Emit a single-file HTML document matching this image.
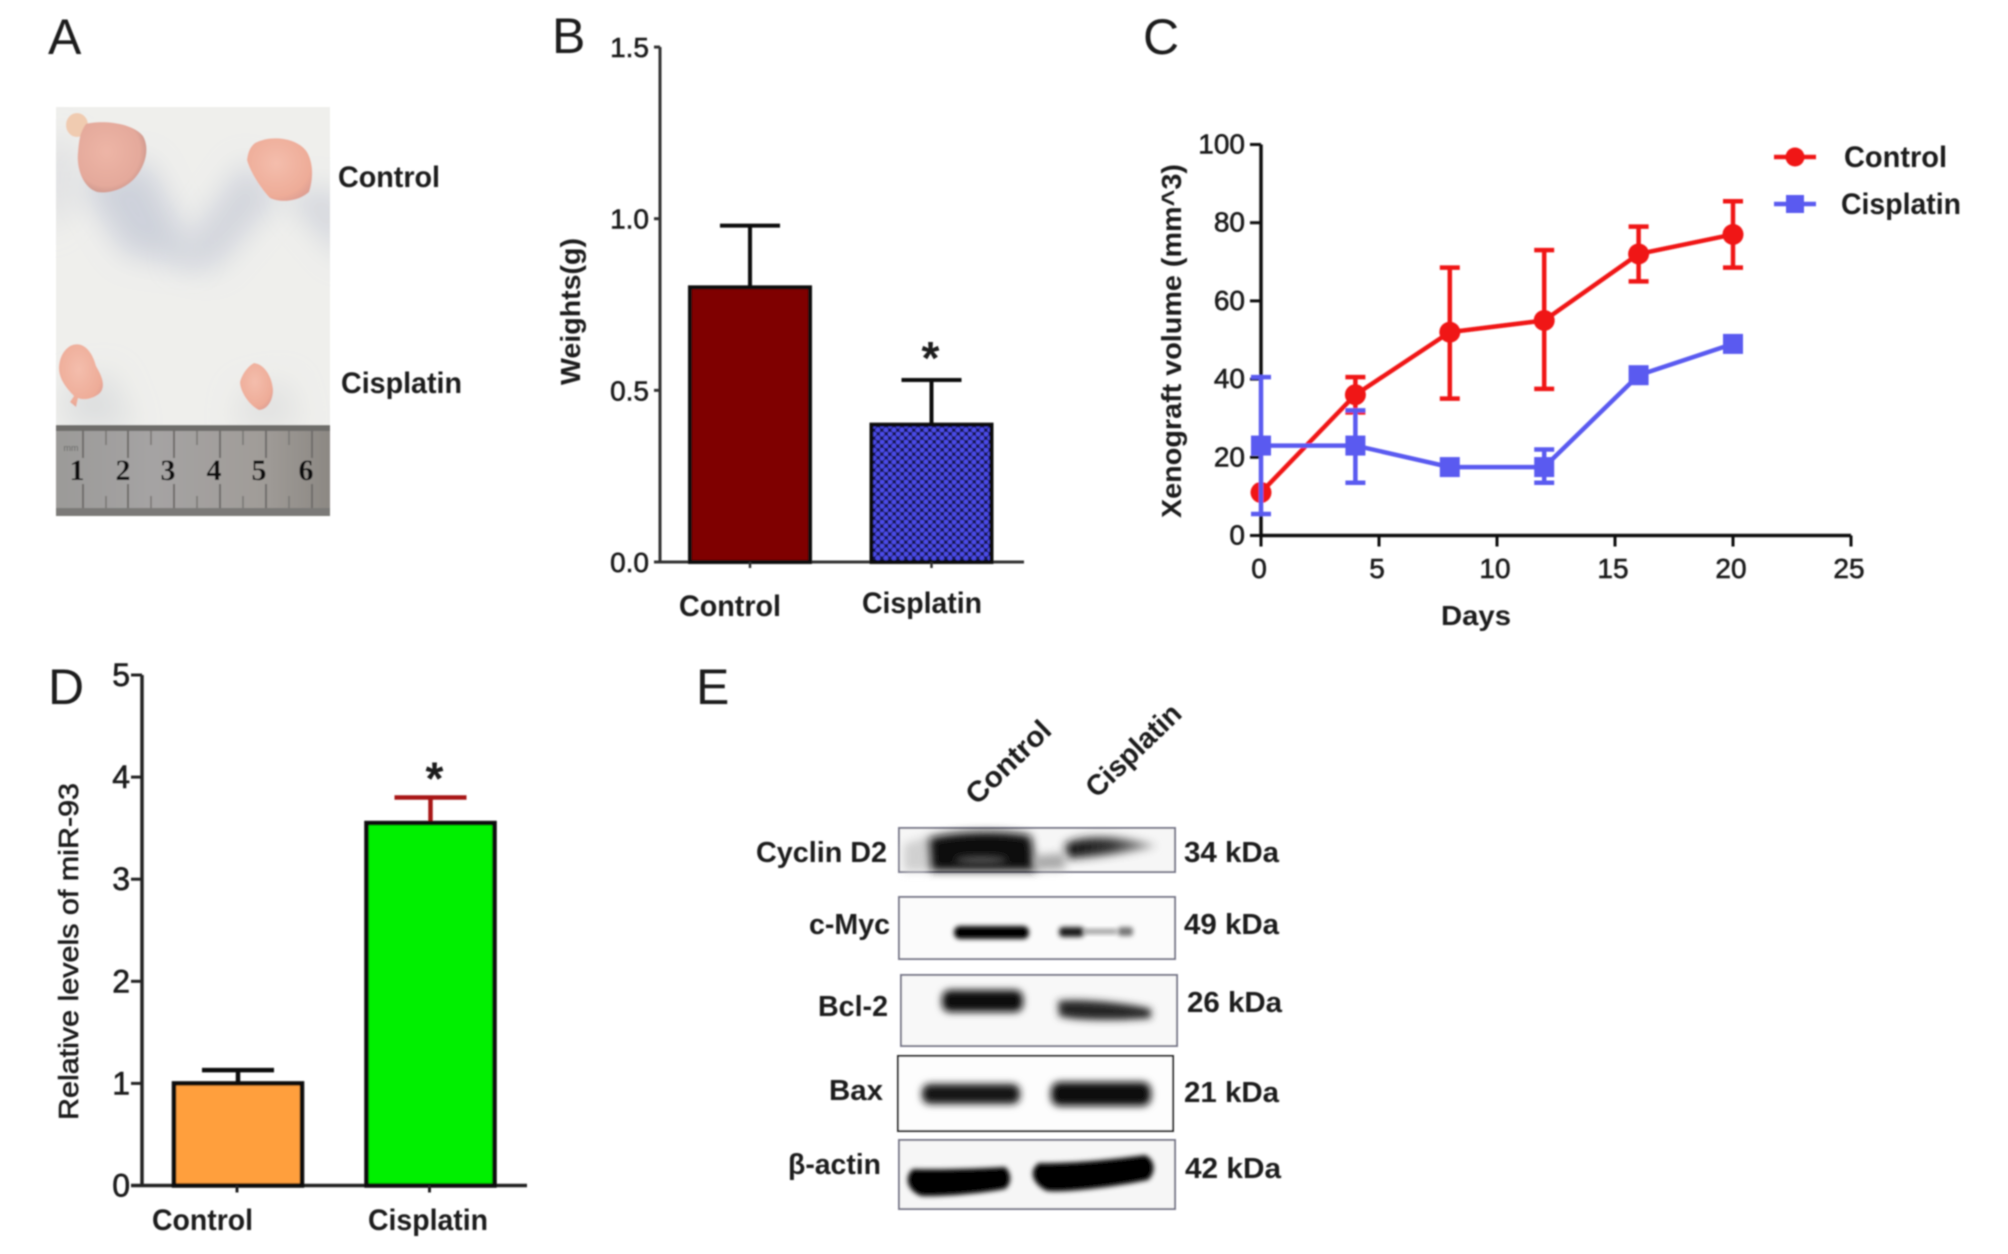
<!DOCTYPE html>
<html lang="en">
<head>
<meta charset="utf-8">
<title>Cisplatin xenograft figure</title>
<style>
html,body{margin:0;padding:0;background:#fff;width:2008px;height:1254px;overflow:hidden}
svg{display:block}
text{font-family:"Liberation Sans",sans-serif;fill:#1a1a1a}
.b{font-weight:bold}
.m{stroke:#1a1a1a;stroke-width:.6px}
</style>
</head>
<body>
<svg id="fig" xmlns="http://www.w3.org/2000/svg" width="2008" height="1254" viewBox="0 0 2008 1254">
<defs>
<filter id="soft" x="-2%" y="-2%" width="104%" height="104%"><feGaussianBlur stdDeviation="0.8"/></filter>
<filter id="b1" x="-30%" y="-60%" width="160%" height="220%"><feGaussianBlur stdDeviation="1.2"/></filter>
<filter id="b2" x="-30%" y="-60%" width="160%" height="220%"><feGaussianBlur stdDeviation="2.4"/></filter>
<filter id="b3" x="-30%" y="-60%" width="160%" height="220%"><feGaussianBlur stdDeviation="3.6"/></filter>
<filter id="b4" x="-30%" y="-60%" width="160%" height="220%"><feGaussianBlur stdDeviation="4.6"/></filter>
<filter id="b14" x="-60%" y="-60%" width="220%" height="220%"><feGaussianBlur stdDeviation="15"/></filter>
<pattern id="dots" width="8" height="8" patternUnits="userSpaceOnUse">
<rect width="8" height="8" fill="#121250"/>
<circle cx="2" cy="2" r="2.5" fill="#4c4ce8"/>
<circle cx="6" cy="6" r="2.5" fill="#4c4ce8"/>
</pattern>
<radialGradient id="tumor" cx="42%" cy="42%" r="68%">
<stop offset="0" stop-color="#edb5a6"/><stop offset=".72" stop-color="#e4a99b"/><stop offset="1" stop-color="#bf8d84"/>
</radialGradient>
<radialGradient id="tumor2" cx="45%" cy="40%" r="65%">
<stop offset="0" stop-color="#f4bdac"/><stop offset=".8" stop-color="#eeac98"/><stop offset="1" stop-color="#dfa093"/>
</radialGradient>
<clipPath id="photo-clip"><rect x="56" y="107" width="274" height="319"/></clipPath>
<linearGradient id="ruler-grad" x1="0" x2="1" y1="0" y2="0">
<stop offset="0" stop-color="#9b9a98"/><stop offset=".35" stop-color="#a5a3a3"/><stop offset=".75" stop-color="#a09c98"/><stop offset="1" stop-color="#8c8883"/>
</linearGradient>
<linearGradient id="fade" x1="0" x2="1" y1="0" y2="0">
<stop offset="0" stop-color="#111"/><stop offset=".5" stop-color="#333"/><stop offset="1" stop-color="#aaa"/>
</linearGradient>
</defs>

<g id="root" filter="url(#soft)">

<!-- Panel A -->
<g>
<text x="48" y="54" font-size="50">A</text>
<g>
<rect x="56" y="107" width="274" height="319" fill="#efefec"/>
<g clip-path="url(#photo-clip)">
<polygon points="78,180 147,160 200,265 125,255" fill="#c8ccd8" opacity=".85" filter="url(#b14)"/>
<polygon points="245,160 280,195 215,270 172,262" fill="#cdd0da" opacity=".85" filter="url(#b14)"/>
<polygon points="280,190 345,190 345,265" fill="#cfd2da" opacity=".85" filter="url(#b14)"/>
<polygon points="45,140 75,140 75,205 45,235" fill="#dcdde0" opacity=".85" filter="url(#b14)"/>
<polygon points="62,385 112,372 135,430 66,430" fill="#d6d8da" opacity=".7" filter="url(#b14)"/>
<polygon points="240,390 290,380 300,430 235,430" fill="#d8d9da" opacity=".6" filter="url(#b14)"/>
</g>
<g>
<ellipse cx="77" cy="125" rx="11" ry="12" fill="#f0cbb0"/>
<path d="M86 124 C100 120 132 122 143 136 C150 148 146 165 135 178 C124 190 108 194 97 192 C84 188 76 170 78 152 C79 140 80 132 86 124Z" fill="url(#tumor)"/>
<path d="M255 143 C272 134 298 138 307 152 C314 164 313 180 309 192 C298 202 280 203 270 198 C262 190 250 172 247 160 C248 152 250 147 255 143Z" fill="url(#tumor2)"/>
<path d="M70 346 C82 340 92 350 96 366 C102 376 106 386 100 393 C92 400 82 400 78 398 L76 407 L70 402 L74 396 C66 388 58 378 59 366 C60 356 64 350 70 346Z" fill="url(#tumor2)"/>
<path d="M254 363 C264 364 272 376 273 390 C273 402 266 410 259 410 C250 406 240 392 240 382 C242 374 248 366 254 363Z" fill="url(#tumor2)"/>
</g>
<g>
<rect x="56" y="425" width="274" height="91" fill="url(#ruler-grad)"/>
<rect x="56" y="425" width="274" height="6" fill="#6e6d6b"/>
<rect x="56" y="508" width="274" height="8" fill="#7c7a78"/>
<path d="M83 431v27M128 431v27M174 431v27M220 431v27M266 431v27M312 431v27M83 484v24M128 484v24M174 484v24M220 484v24M266 484v24M312 484v24" stroke="#6f6d6b" stroke-width="2"/>
<path d="M106 431v14M151 431v14M197 431v14M243 431v14M289 431v14M106 496v12M151 496v12M197 496v12M243 496v12M289 496v12" stroke="#7a7876" stroke-width="1.6"/>
<text x="71" y="451" font-size="9" text-anchor="middle" style="fill:#666">mm</text>
<text x="77" y="480" text-anchor="middle" font-size="30" font-weight="bold" style="font-family:'Liberation Serif',serif;fill:#111">1</text>
<text x="123" y="480" text-anchor="middle" font-size="30" font-weight="bold" style="font-family:'Liberation Serif',serif;fill:#111">2</text>
<text x="168" y="480" text-anchor="middle" font-size="30" font-weight="bold" style="font-family:'Liberation Serif',serif;fill:#111">3</text>
<text x="214" y="480" text-anchor="middle" font-size="30" font-weight="bold" style="font-family:'Liberation Serif',serif;fill:#111">4</text>
<text x="259" y="480" text-anchor="middle" font-size="30" font-weight="bold" style="font-family:'Liberation Serif',serif;fill:#111">5</text>
<text x="306" y="480" text-anchor="middle" font-size="30" font-weight="bold" style="font-family:'Liberation Serif',serif;fill:#111">6</text>
</g>
</g>
<text x="338" y="187" class="b" font-size="30" textLength="102" lengthAdjust="spacingAndGlyphs">Control</text>
<text x="341" y="393" class="b" font-size="30" textLength="121" lengthAdjust="spacingAndGlyphs">Cisplatin</text>
</g>

<!-- Panel letters -->
<text x="552" y="53" font-size="50">B</text>
<text x="1143" y="54" font-size="50">C</text>
<text x="48" y="704" font-size="50">D</text>
<text x="696" y="704" font-size="50">E</text>

<g id="chart-b"></g>
<g id="chart-c"></g>
<g id="chart-d"></g>

<!-- Panel E -->
<g>
<text transform="translate(977,806) rotate(-44)" class="b" font-size="29" textLength="106" lengthAdjust="spacingAndGlyphs">Control</text>
<text transform="translate(1097,799) rotate(-44)" class="b" font-size="29" textLength="120" lengthAdjust="spacingAndGlyphs">Cisplatin</text>

<g transform="translate(-1,-2)">
<g>
<rect x="900" y="830" width="276" height="44" fill="#f6f6f6" stroke="#7a7a8c" stroke-width="2"/>
<path d="M905 846 L930 838 L930 873 L905 873Z" fill="#d0d0d0" filter="url(#b4)"/>
<path d="M930 840 C960 832 1010 832 1032 838 L1037 873 L932 873Z" fill="#101010" filter="url(#b4)"/>
<ellipse cx="982" cy="862" rx="26" ry="4" fill="#555" filter="url(#b3)"/>
<path d="M1066 846 C1085 836 1125 838 1158 848 C1130 854 1090 860 1068 860Z" fill="url(#fade)" filter="url(#b4)"/>
<path d="M1034 858 L1066 855 L1066 871 L1036 872Z" fill="#a8a8a8" filter="url(#b4)"/>
</g>
<g>
<rect x="900" y="899" width="276" height="62" fill="#fbfbfb" stroke="#7a7a8c" stroke-width="2"/>
<rect x="955" y="928" width="75" height="13" rx="6" fill="#050505" filter="url(#b2)"/>
<rect x="1060" y="929" width="25" height="10" rx="4" fill="#1c1c1c" filter="url(#b2)"/>
<rect x="1084" y="931" width="34" height="5" fill="#9c9c9c" filter="url(#b2)"/>
<rect x="1119" y="929" width="15" height="9" rx="3" fill="#777" filter="url(#b2)"/>
</g>
<g>
<rect x="902" y="977" width="276" height="71" fill="#f8f8f8" stroke="#7a7a8c" stroke-width="2"/>
<rect x="943" y="992" width="81" height="22" rx="8" fill="#0c0c0c" filter="url(#b3)"/>
<path d="M1059 1003 C1080 1000 1130 1005 1152 1011 L1152 1020 C1120 1023 1075 1023 1060 1018Z" fill="#262626" filter="url(#b3)"/>
</g>
<g>
<rect x="899" y="1058" width="275" height="75" fill="#fdfdfd" stroke="#2a2a2a" stroke-width="2"/>
<rect x="923" y="1086" width="98" height="20" rx="8" fill="#161616" filter="url(#b3)"/>
<rect x="1052" y="1084" width="100" height="24" rx="9" fill="#080808" filter="url(#b3)"/>
</g>
<g>
<rect x="900" y="1142" width="276" height="69" fill="#f6f6f6" stroke="#7a7a8c" stroke-width="2"/>
<path d="M914 1171 C945 1172 990 1170 1006 1169 C1013 1175 1013 1186 1006 1191 C985 1195 945 1199 922 1198 C907 1192 905 1178 914 1171Z" fill="#050505" filter="url(#b2)"/>
<path d="M1040 1165 C1075 1166 1125 1160 1146 1157 C1157 1162 1157 1175 1149 1182 C1120 1188 1070 1195 1048 1193 C1033 1186 1029 1172 1040 1165Z" fill="#050505" filter="url(#b2)"/>
</g>
</g>

<text x="756" y="862" class="b" font-size="29" textLength="131" lengthAdjust="spacingAndGlyphs">Cyclin D2</text>
<text x="809" y="934" class="b" font-size="29" textLength="81" lengthAdjust="spacingAndGlyphs">c-Myc</text>
<text x="818" y="1016" class="b" font-size="29" textLength="70" lengthAdjust="spacingAndGlyphs">Bcl-2</text>
<text x="829" y="1100" class="b" font-size="29" textLength="54" lengthAdjust="spacingAndGlyphs">Bax</text>
<text x="788" y="1174" class="b" font-size="29" textLength="93" lengthAdjust="spacingAndGlyphs">β-actin</text>

<text x="1184" y="862" class="b" font-size="29" textLength="95" lengthAdjust="spacingAndGlyphs">34 kDa</text>
<text x="1184" y="934" class="b" font-size="29" textLength="95" lengthAdjust="spacingAndGlyphs">49 kDa</text>
<text x="1187" y="1012" class="b" font-size="29" textLength="95" lengthAdjust="spacingAndGlyphs">26 kDa</text>
<text x="1184" y="1102" class="b" font-size="29" textLength="95" lengthAdjust="spacingAndGlyphs">21 kDa</text>
<text x="1185" y="1178" class="b" font-size="29" textLength="96" lengthAdjust="spacingAndGlyphs">42 kDa</text>
</g>
</g>
</svg>

<script>
// ---- Panel B data ----
const bCategories = ['Control', 'Cisplatin'];
const bValues = [0.80, 0.40];
const bErrors = [0.18, 0.13];
const bTicks = ['0.0', '0.5', '1.0', '1.5'];
// ---- Panel C data ----
const cDays = [0, 4, 8, 12, 16, 20];
const cControl = [11, 36, 52, 55, 72, 77];
const cControlLow = [11, 31.5, 35, 37.5, 65, 68.5];
const cControlHigh = [11, 40.5, 68.5, 73, 79, 85.5];
const cCisplatin = [23, 23, 17.5, 17.5, 41, 49];
const cCisplatinLow = [5.5, 13.5, 17.5, 13.5, 41, 49];
const cCisplatinHigh = [40.5, 32, 17.5, 22, 41, 49];
const cXTicks = [0, 5, 10, 15, 20, 25];
const cYTicks = [0, 20, 40, 60, 80, 100];
const cSeriesNames = ['Control', 'Cisplatin'];
// ---- Panel D data ----
const dCategories = ['Control', 'Cisplatin'];
const dValues = [1.0, 3.55];
const dErrors = [0.13, 0.25];
const dTicks = [0, 1, 2, 3, 4, 5];

const NS = 'http://www.w3.org/2000/svg';
function mk(parent, tag, attrs, txt) {
  const el = document.createElementNS(NS, tag);
  for (const k in attrs) el.setAttribute(k, attrs[k]);
  if (txt !== undefined) el.textContent = txt;
  parent.appendChild(el);
  return el;
}

// ---------- Panel B ----------
(function () {
  const g = document.getElementById('chart-b');
  const yB = v => 562 - v * 343.3;
  const xB = i => 750 + i * 181.5;
  const barW = 120;
  const axis = mk(g, 'path', { d: `M660 ${yB(1.5)}V${yB(0)}M660 ${yB(0)}H1024`, stroke: '#333', 'stroke-width': 3, fill: 'none' });
  
  
  bTicks.forEach(t => {
    const y = yB(parseFloat(t));
    const tk = mk(g, 'line', { x1: 654, x2: 660, y1: y, y2: y, stroke: '#333', 'stroke-width': 3 });
    
    
    const lb = mk(g, 'text', { x: 649, y: y + 10, 'text-anchor': 'end', 'font-size': 28, class: 'm' }, t);
    
    
  });
  bCategories.forEach((c, i) => {
    const cx = xB(i);
    const top = yB(bValues[i]);
    const capY = yB(bValues[i] + bErrors[i]);
    const err = mk(g, 'path', { d: `M${cx} ${top}V${capY}M${cx - 30} ${capY}H${cx + 30}`, stroke: '#111', 'stroke-width': 4, fill: 'none' });
    
    
    const bar = mk(g, 'rect', { x: cx - barW / 2, y: top, width: barW, height: yB(0) - top, fill: i === 0 ? '#7f0000' : 'url(#dots)', stroke: '#0a0a0a', 'stroke-width': 4 });
    
    
    const tk = mk(g, 'line', { x1: cx, x2: cx, y1: yB(0), y2: yB(0) + 6, stroke: '#333', 'stroke-width': 2.5 });
    
    
    const lb = mk(g, 'text', { x: i === 0 ? 679 : 862, y: i === 0 ? 616 : 613, class: 'b', 'font-size': 30, textLength: i === 0 ? 102 : 120, lengthAdjust: 'spacingAndGlyphs' }, c);
    
    
  });
  const star = mk(g, 'text', { x: xB(1) - 1, y: yB(bValues[1] + bErrors[1]) - 6, 'text-anchor': 'middle', class: 'b', 'font-size': 46 }, '*');
  
  
  const yt = mk(g, 'text', { transform: 'translate(580,385) rotate(-90)', class: 'b', 'font-size': 28, textLength: 147, lengthAdjust: 'spacingAndGlyphs' }, 'Weights(g)');
  
  
})();

// ---------- Panel C ----------
(function () {
  const g = document.getElementById('chart-c');
  const xC = d => 1261 + d * 23.6;
  const yC = v => 535.5 - v * 3.91;
  const axis = mk(g, 'path', { d: `M${xC(0)} ${yC(100)}V${yC(0)}H${xC(25)}`, stroke: '#111', 'stroke-width': 3.5, fill: 'none' });
  
  
  cYTicks.forEach(t => {
    const y = yC(t);
    const tk = mk(g, 'line', { x1: xC(0) - 11, x2: xC(0), y1: y, y2: y, stroke: '#111', 'stroke-width': 3 });
    
    
    const lb = mk(g, 'text', { x: xC(0) - 16, y: y + 9, 'text-anchor': 'end', 'font-size': 28, class: 'm' }, t);
    
    
  });
  cXTicks.forEach(t => {
    const x = xC(t);
    const tk = mk(g, 'line', { x1: x, x2: x, y1: yC(0), y2: yC(0) + 11, stroke: '#111', 'stroke-width': 3 });
    
    
    const lb = mk(g, 'text', { x: x - 2, y: 578, 'text-anchor': 'middle', 'font-size': 28, class: 'm' }, t);
    
    
  });
  function drawSeries(vals, low, high, color, isSquare, seriesName) {
    const s = mk(g, 'g', {});
    
    
    const pts = cDays.map((d, i) => xC(d) + ',' + yC(vals[i])).join(' ');
    const line = mk(s, 'polyline', { points: pts, fill: 'none', stroke: color, 'stroke-width': 4.5 });
    
    
    cDays.forEach((d, i) => {
      const x = xC(d);
      if (low[i] !== vals[i] || high[i] !== vals[i]) {
        const e = mk(s, 'path', { d: `M${x} ${yC(low[i])}V${yC(high[i])}M${x - 10} ${yC(low[i])}H${x + 10}M${x - 10} ${yC(high[i])}H${x + 10}`, stroke: color, 'stroke-width': 4.5, fill: 'none' });
        
        
      }
      const m = isSquare
        ? mk(s, 'rect', { x: x - 10, y: yC(vals[i]) - 10, width: 20, height: 20, fill: color })
        : mk(s, 'circle', { cx: x, cy: yC(vals[i]), r: 10.5, fill: color });
      
      
    });
  }
  drawSeries(cControl, cControlLow, cControlHigh, '#f01414', false, 'series-control');
  drawSeries(cCisplatin, cCisplatinLow, cCisplatinHigh, '#5a5af0', true, 'series-cisplatin');

  const yt = mk(g, 'text', { transform: 'translate(1181,518) rotate(-90)', class: 'b', 'font-size': 28, textLength: 354, lengthAdjust: 'spacingAndGlyphs' }, 'Xenograft volume (mm^3)');
  
  
  const xt = mk(g, 'text', { x: 1441, y: 625, class: 'b', 'font-size': 28, textLength: 70, lengthAdjust: 'spacingAndGlyphs' }, 'Days');
  
  

  cSeriesNames.forEach((n, i) => {
    const ly = i === 0 ? 157 : 204;
    const color = i === 0 ? '#f01414' : '#5a5af0';
    const leg = mk(g, 'g', {});
    
    
    const ln = mk(leg, 'line', { x1: 1774, x2: 1816, y1: ly, y2: ly, stroke: color, 'stroke-width': 4.5 });
    
    
    const mkr = i === 0
      ? mk(leg, 'circle', { cx: 1795, cy: ly, r: 9.5, fill: color })
      : mk(leg, 'rect', { x: 1786, y: ly - 9, width: 18, height: 18, fill: color });
    
    
    const tx = mk(leg, 'text', { x: i === 0 ? 1844 : 1841, y: ly + 10, class: 'b', 'font-size': 30, textLength: i === 0 ? 103 : 120, lengthAdjust: 'spacingAndGlyphs' }, n);
    
    
  });
})();

// ---------- Panel D ----------
(function () {
  const g = document.getElementById('chart-d');
  const yD = v => 1185.5 - v * 102.1;
  const xD = i => 238 + i * 192.5;
  const barW = 128;
  const fills = ['#ff9f3c', '#00f000'];
  const errCols = ['#111', '#a81414'];
  const axis = mk(g, 'path', { d: `M142 ${yD(5)}V${yD(0)}M131 ${yD(0)}H527`, stroke: '#222', 'stroke-width': 3.5, fill: 'none' });
  
  
  dTicks.forEach(t => {
    const y = yD(t);
    const tk = mk(g, 'line', { x1: 131, x2: 142, y1: y, y2: y, stroke: '#222', 'stroke-width': 3 });
    
    
    const lb = mk(g, 'text', { x: 130, y: y + 11, 'text-anchor': 'end', 'font-size': 32, class: 'm' }, t);
    
    
  });
  dCategories.forEach((c, i) => {
    const cx = xD(i);
    const top = yD(dValues[i]);
    const capY = yD(dValues[i] + dErrors[i]);
    const err = mk(g, 'path', { d: `M${cx} ${top}V${capY}M${cx - 36} ${capY}H${cx + 36}`, stroke: errCols[i], 'stroke-width': 4.5, fill: 'none' });
    
    
    const bar = mk(g, 'rect', { x: cx - barW / 2, y: top, width: barW, height: yD(0) - top, fill: fills[i], stroke: '#0a0a0a', 'stroke-width': 4.5 });
    
    
    const tk = mk(g, 'line', { x1: cx - 1, x2: cx - 1, y1: yD(0), y2: yD(0) + 7, stroke: '#222', 'stroke-width': 3 });
    
    
    const lb = mk(g, 'text', { x: i === 0 ? 152 : 368, y: 1230, class: 'b', 'font-size': 30, textLength: i === 0 ? 101 : 120, lengthAdjust: 'spacingAndGlyphs' }, c);
    
    
  });
  const star = mk(g, 'text', { x: xD(1) + 4, y: yD(dValues[1] + dErrors[1]) - 3, 'text-anchor': 'middle', class: 'b', 'font-size': 46 }, '*');
  
  
  const yt = mk(g, 'text', { transform: 'translate(78,1120) rotate(-90)', 'font-size': 28, class: 'm', textLength: 337, lengthAdjust: 'spacingAndGlyphs' }, 'Relative levels of miR-93');
  
  
})();
</script>
</body>
</html>
